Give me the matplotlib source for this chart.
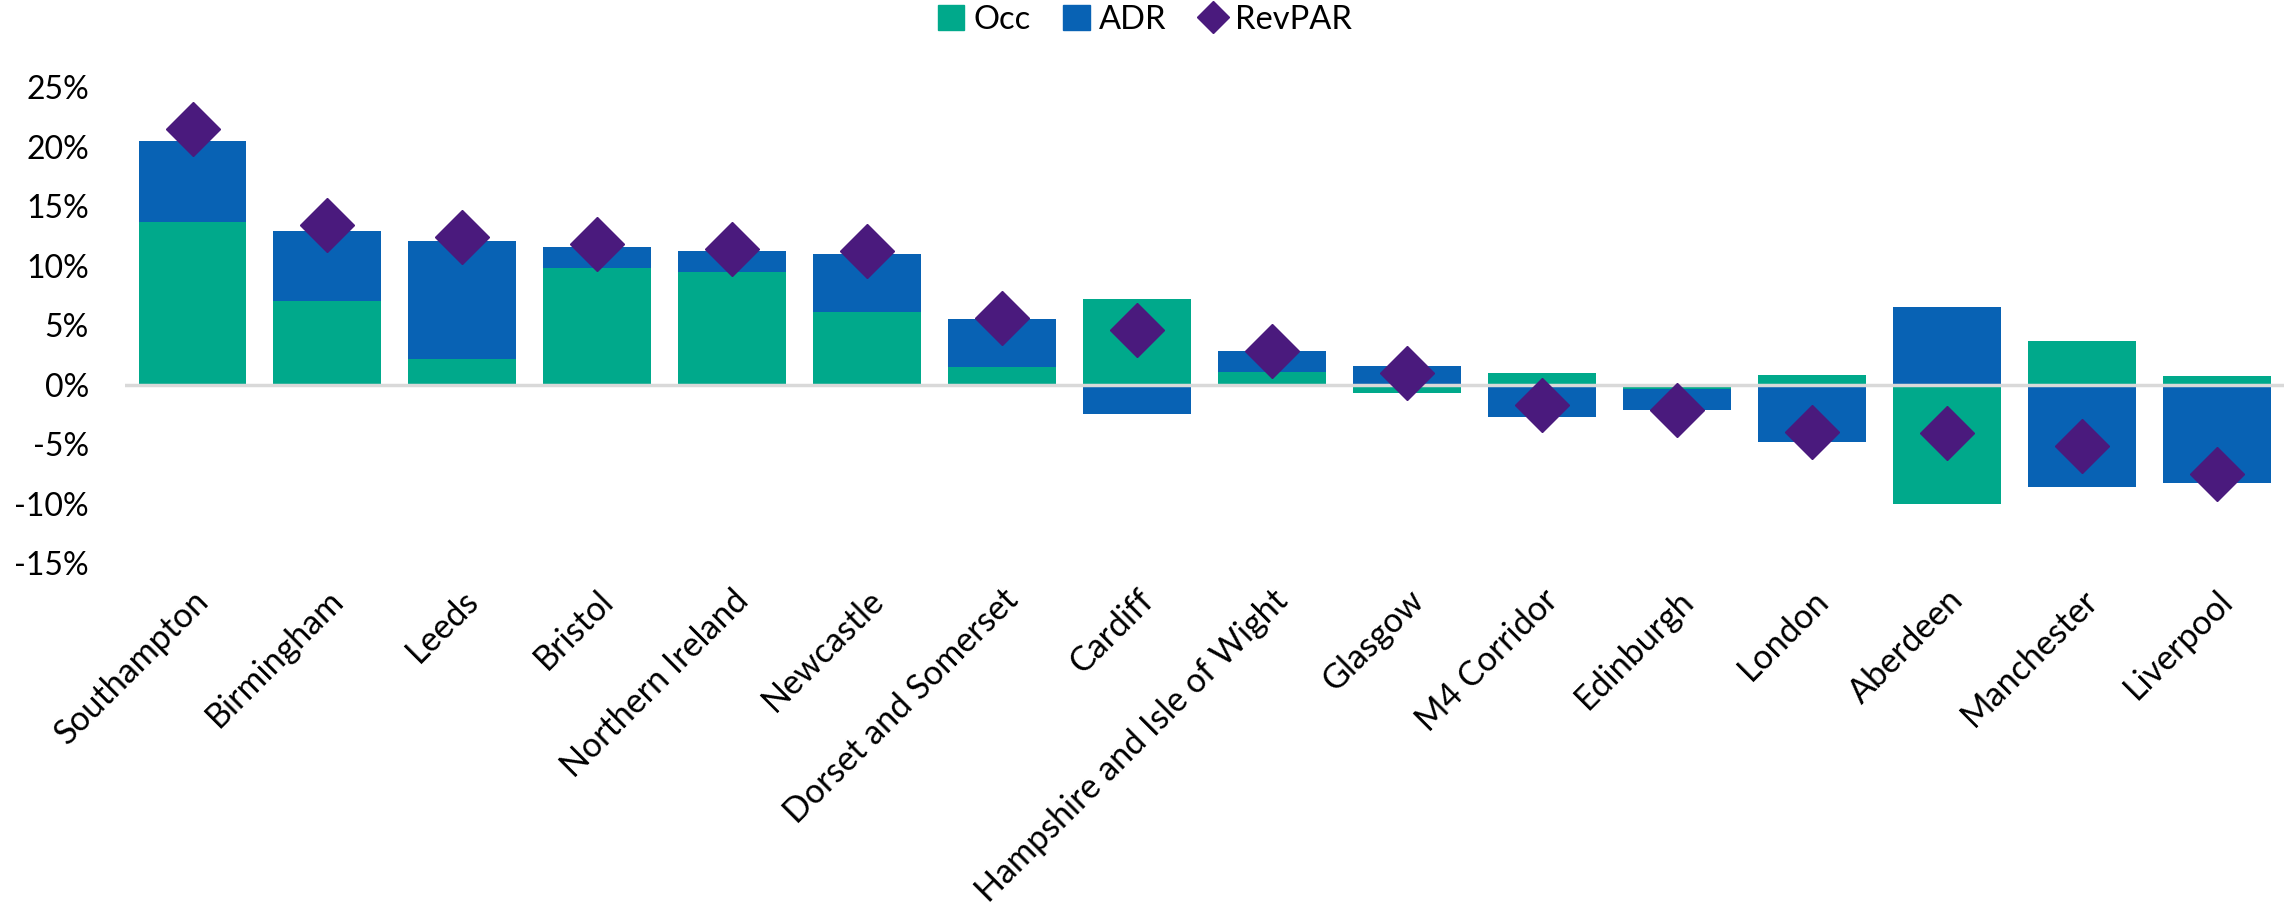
import numpy as np
import matplotlib
matplotlib.use("Agg")
import matplotlib.pyplot as plt
from matplotlib.patches import Patch
from matplotlib.lines import Line2D
from matplotlib.ticker import FuncFormatter

plt.rcParams['font.family'] = ['Lato', 'DejaVu Sans']

regions = ["Southampton", "Birmingham", "Leeds", "Bristol", "Northern Ireland",
           "Newcastle", "Dorset and Somerset", "Cardiff", "Hampshire and Isle of Wight",
           "Glasgow", "M4 Corridor", "Edinburgh", "London", "Aberdeen",
           "Manchester", "Liverpool"]
occ = np.array([13.7, 7.0, 2.15, 9.8, 9.45, 6.1, 1.5, 7.2, 1.05,
                -0.75, 0.95, -0.35, 0.8, -10.0, 3.7, 0.7])
adr = np.array([6.8, 5.9, 9.95, 1.8, 1.75, 4.85, 4.05, -2.45, 1.8,
                1.6, -2.75, -1.8, -4.8, 6.55, -8.65, -8.25])
revpar = np.array([21.5, 13.4, 12.4, 11.8, 11.4, 11.2, 5.6, 4.6, 2.8,
                   0.95, -1.75, -2.15, -4.0, -4.05, -5.2, -7.5])

c_occ = "#00A98B"
c_adr = "#0862B4"
c_rev = "#4A1A7D"

fig = plt.figure(figsize=(22.9, 9.17), dpi=100)
ax = fig.add_axes([0.0546, 0.386, 0.9428, 0.519])

x = np.arange(len(regions))
# Excel-style stacking: ADR sits on Occ only when both have the same sign
adr_bottom = np.where(np.sign(adr) == np.sign(occ), occ, 0)
ax.bar(x, occ, width=0.8, color=c_occ, zorder=2)
ax.bar(x, adr, width=0.8, bottom=adr_bottom, color=c_adr, zorder=2)
ax.axhline(0, color="#D9D9D9", lw=2.5, zorder=3)
ax.plot(x, revpar, linestyle="none", marker="D", markersize=28,
        color=c_rev, zorder=4)

ax.set_xlim(-0.5, len(regions) - 0.5)
ax.set_ylim(-15, 25)
ax.set_yticks(np.arange(-15, 26, 5))
ax.yaxis.set_major_formatter(FuncFormatter(lambda v, p: f"{v:.0f}%"))
ax.set_xticks(x)
ax.set_xticklabels(regions, rotation=45, ha="right", rotation_mode="anchor")
ax.tick_params(axis="y", length=0, pad=26, labelsize=23)
ax.tick_params(axis="x", length=0, pad=15, labelsize=24.5)
for s in ax.spines.values():
    s.set_visible(False)

handles = [Patch(color=c_occ, label="Occ"), Patch(color=c_adr, label="ADR"),
           Line2D([], [], linestyle="none", marker="D", markersize=16,
                  color=c_rev, label="RevPAR")]
fig.legend(handles=handles, loc="center", bbox_to_anchor=(0.5, 0.978), ncol=3,
           frameon=False, fontsize=23.5, handlelength=0.8, handleheight=0.8,
           handletextpad=0.3, columnspacing=1.0)

fig.savefig("out.png", dpi=100)
